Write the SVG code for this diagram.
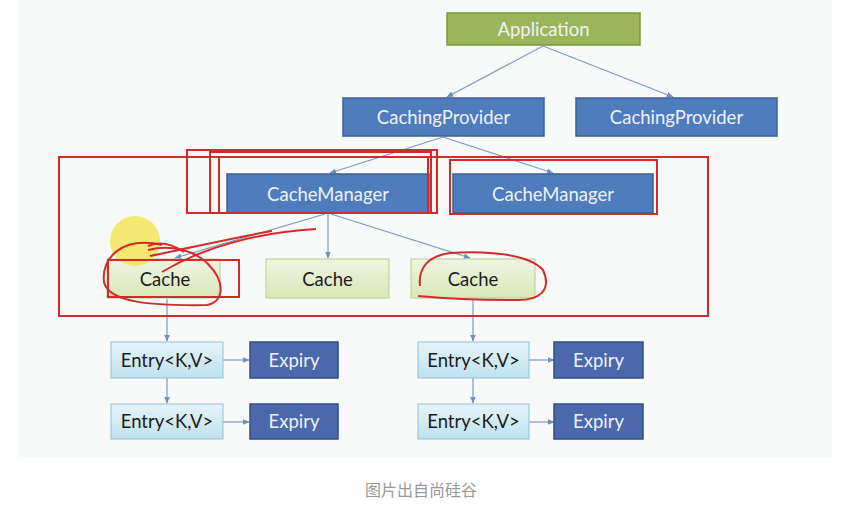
<svg xmlns="http://www.w3.org/2000/svg" width="855" height="510" viewBox="0 0 855 510">
<defs>
<linearGradient id="gGreen" x1="0" y1="0" x2="0" y2="1"><stop offset="0" stop-color="#f0f5e4"/><stop offset="1" stop-color="#d9e7b8"/></linearGradient>
<linearGradient id="gBlue" x1="0" y1="0" x2="0" y2="1"><stop offset="0" stop-color="#e6f4f9"/><stop offset="1" stop-color="#bfe2ee"/></linearGradient>
<marker id="arr" viewBox="0 0 10 10" refX="9" refY="5" markerWidth="7" markerHeight="7" orient="auto" markerUnits="userSpaceOnUse"><path d="M0,1 L10,5 L0,9 z" fill="#6f8fc0"/></marker>
<style>
.app{fill:#9bb55a;stroke:#7c9840;stroke-width:1.5}
.blue{fill:#4f7cbd;stroke:#3c5f91;stroke-width:1.5}
.exp{fill:#4a68ab;stroke:#344e86;stroke-width:1.5}
.cache{fill:url(#gGreen);stroke:#b9cc8c;stroke-width:1}
.entry{fill:url(#gBlue);stroke:#8fc2d6;stroke-width:1}
.wt{font-family:Lato,"Open Sans",sans-serif;font-size:18.5px;fill:#eef2f8;text-anchor:middle}
.dt{font-family:Lato,"Open Sans",sans-serif;font-size:18.5px;fill:#1c1c1c;text-anchor:middle}
.con{stroke:#7f9ac4;stroke-width:1.2;fill:none;marker-end:url(#arr)}
.red{stroke:#d42a2a;stroke-width:2;fill:none}
</style>
</defs>
<rect x="0" y="0" width="855" height="510" fill="#ffffff"/>
<rect x="18" y="0" width="814" height="457" fill="#f8f9f9"/>

<g id="connectors">
<line class="con" x1="543" y1="46" x2="447" y2="97"/>
<line class="con" x1="543" y1="46" x2="673" y2="97"/>
<line class="con" x1="443" y1="137" x2="330" y2="173"/>
<line class="con" x1="443" y1="137" x2="553" y2="173"/>
<line class="con" x1="325" y1="214" x2="175" y2="258"/>
<line class="con" x1="328" y1="214" x2="328" y2="258"/>
<line class="con" x1="331" y1="214" x2="470" y2="258"/>
<line class="con" x1="167" y1="299" x2="167" y2="341"/>
<line class="con" x1="473" y1="299" x2="473" y2="341"/>
<line class="con" x1="167" y1="378" x2="167" y2="403"/>
<line class="con" x1="473" y1="378" x2="473" y2="403"/>
<line class="con" x1="223" y1="360" x2="249" y2="360"/>
<line class="con" x1="223" y1="422" x2="249" y2="422"/>
<line class="con" x1="529" y1="360" x2="554" y2="360"/>
<line class="con" x1="529" y1="422" x2="554" y2="422"/>
</g>

<g id="application"><rect class="app" x="447" y="13" width="193" height="32"/><text class="wt" x="543.5" y="35.5">Application</text></g>
<g id="provider1"><rect class="blue" x="343" y="98" width="201" height="38"/><text class="wt" x="443.5" y="123.5">CachingProvider</text></g>
<g id="provider2"><rect class="blue" x="576" y="98" width="201" height="38"/><text class="wt" x="676.5" y="123.5">CachingProvider</text></g>
<g id="manager1"><rect class="blue" x="227" y="174" width="202" height="39"/><text class="wt" x="328" y="200.5">CacheManager</text></g>
<g id="manager2"><rect class="blue" x="453" y="174" width="200" height="39"/><text class="wt" x="553" y="200.5">CacheManager</text></g>
<g id="cache1"><rect class="cache" x="107" y="259" width="113" height="39"/><text class="dt" x="165" y="285.5">Cache</text></g>
<g id="cache2"><rect class="cache" x="266" y="259" width="123" height="39"/><text class="dt" x="327.5" y="285.5">Cache</text></g>
<g id="cache3"><rect class="cache" x="411" y="259" width="124" height="39"/><text class="dt" x="473" y="285.5">Cache</text></g>
<g id="entry1"><rect class="entry" x="111" y="342" width="112" height="36"/><text class="dt" x="167" y="366.5">Entry&lt;K,V&gt;</text></g>
<g id="entry2"><rect class="entry" x="111" y="404" width="112" height="35"/><text class="dt" x="167" y="428">Entry&lt;K,V&gt;</text></g>
<g id="entry3"><rect class="entry" x="418" y="342" width="111" height="36"/><text class="dt" x="473.5" y="366.5">Entry&lt;K,V&gt;</text></g>
<g id="entry4"><rect class="entry" x="418" y="404" width="111" height="35"/><text class="dt" x="473.5" y="428">Entry&lt;K,V&gt;</text></g>
<g id="expiry1"><rect class="exp" x="250" y="342" width="88" height="36"/><text class="wt" x="294" y="366.5">Expiry</text></g>
<g id="expiry2"><rect class="exp" x="250" y="404" width="88" height="35"/><text class="wt" x="294" y="428">Expiry</text></g>
<g id="expiry3"><rect class="exp" x="554" y="342" width="89" height="36"/><text class="wt" x="598.5" y="366.5">Expiry</text></g>
<g id="expiry4"><rect class="exp" x="554" y="404" width="89" height="35"/><text class="wt" x="598.5" y="428">Expiry</text></g>

<g id="annotations">
<circle cx="135" cy="241" r="25" fill="#f3e23a" opacity="0.7"/>
<rect class="red" x="59" y="157" width="649" height="159"/>
<rect class="red" x="187" y="150" width="250" height="63"/>
<rect class="red" x="210" y="152" width="221" height="61"/>
<rect class="red" x="219" y="157" width="209" height="56"/>
<rect class="red" x="450" y="160" width="207" height="54"/>
<rect class="red" x="108" y="260" width="131" height="37"/>
<path class="red" d="M162 245 C122 236 101 258 104 282 C108 302 150 306 207 305 C224 302 226 282 208 264 C194 250 170 244 148 250"/>
<path class="red" d="M316 229 C262 232 205 246 162 272"/>
<path class="red" d="M272 231 C232 238 190 248 150 256"/>
<path class="red" d="M148 246 C160 241 172 244 184 252"/>
<path class="red" d="M420 286 C418 268 428 256 450 253 C490 250 530 255 543 270 C552 290 540 301 515 300 C480 300 440 298 418 296"/>
</g>

<text x="421" y="496" font-family="'Noto Sans CJK SC',sans-serif" font-size="16" fill="#999999" text-anchor="middle">图片出自尚硅谷</text>
</svg>
